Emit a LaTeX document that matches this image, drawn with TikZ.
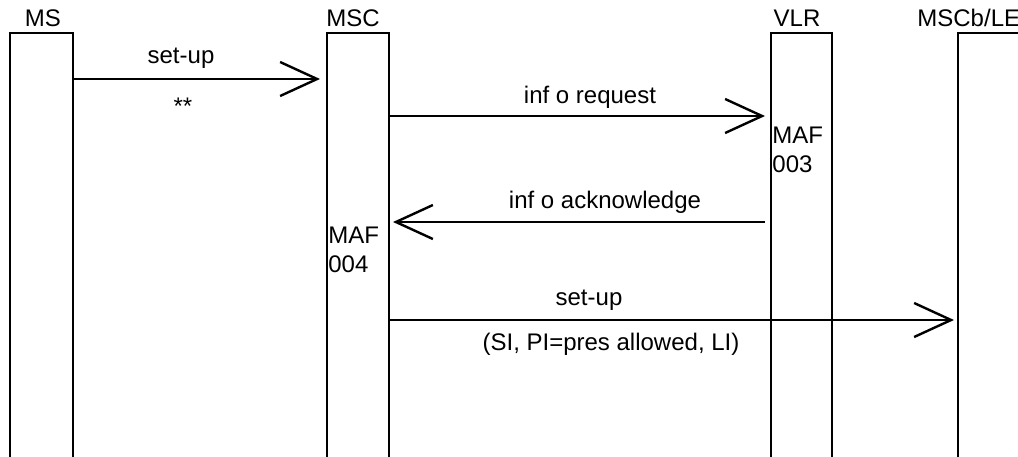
\documentclass[tikz,border=0pt]{standalone}
\usepackage{fontspec}
\setmainfont{Liberation Sans}
\usetikzlibrary{arrows.meta}
\begin{document}
\begin{tikzpicture}[x=0.5pt,y=-0.5pt,
  life/.style={line width=1.2pt},
  msg/.style={line width=1.2pt,-{Straight Barb[length=18.5pt,width=17pt,line width=1.2pt]}},
  lbl/.style={inner sep=0pt,anchor=base,font=\fontsize{12}{14}\selectfont},
  maf/.style={inner sep=0pt,anchor=base west,font=\fontsize{12}{14}\selectfont}]
\useasboundingbox (0,0) rectangle (1018,456);
\clip (0,0) rectangle (1018,456);
% lifelines
\draw[life] (10,460) -- (10,33) -- (73,33) -- (73,460);
\draw[life] (327,460) -- (327,33) -- (389,33) -- (389,460);
\draw[life] (771,460) -- (771,33) -- (832,33) -- (832,460);
\draw[life] (958,460) -- (958,33) -- (1030,33);
% lifeline names
\node[lbl] (nMS) at (43,26) {MS};
\node[lbl] (nMSC) at (353,26) {MSC};
\node[lbl] (nVLR) at (797,26) {VLR};
\node[lbl,anchor=base west] (nMSCb) at (917,26) {MSCb/LE};
% message 1
\coordinate (m1s) at (72,79);
\coordinate (m1e) at (320,79);
\draw[msg] (m1s) -- (m1e);
\node[lbl] (l1a) at (181,63) {set-up};
\node[lbl] (l1b) at (183,114) {**};
% message 2
\coordinate (m2s) at (389,116);
\coordinate (m2e) at (765,116);
\draw[msg] (m2s) -- (m2e);
\node[lbl] (l2) at (590,103) {inf o request};
% message 3
\coordinate (m3s) at (765,222);
\coordinate (m3e) at (393,222);
\draw[msg] (m3s) -- (m3e);
\node[lbl] (l3) at (605,208) {inf o acknowledge};
% message 4
\coordinate (m4s) at (389,320);
\coordinate (m4e) at (954,320);
\draw[msg] (m4s) -- (m4e);
\node[lbl] (l4a) at (589,305) {set-up};
\node[lbl] (l4b) at (611,350) {(SI, PI=pres allowed, LI)};
% MAF labels
\node[maf] (maf3a) at (772,143) {MAF};
\node[maf] (maf3b) at (772,172) {003};
\node[maf] (maf4a) at (328,243) {MAF};
\node[maf] (maf4b) at (328,272) {004};
\end{tikzpicture}
\end{document}
